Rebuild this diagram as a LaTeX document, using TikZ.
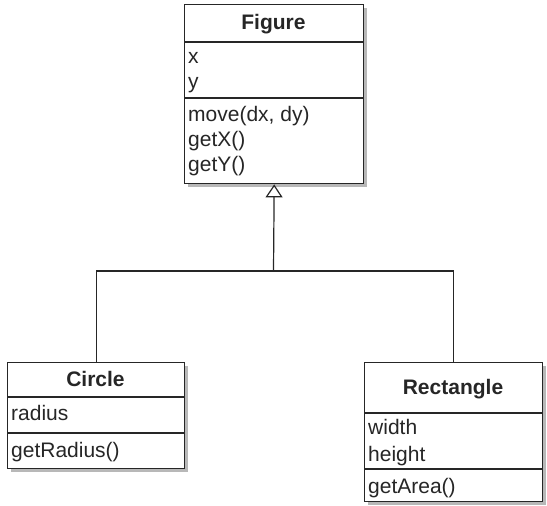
\documentclass[tikz,border=0pt]{standalone}
\usepackage{fontspec}
\setmainfont{Liberation Sans}
\usetikzlibrary{arrows.meta,shadows}
\begin{document}
\begin{tikzpicture}[x=1pt,y=-1pt,
  box/.style={draw=black!85,line width=1.4pt,fill=white,anchor=north west,inner sep=0pt,
    drop shadow={shadow xshift=3.5pt,shadow yshift=-3.5pt,fill=black!35,opacity=0.8}},
  sep/.style={draw=black!85,line width=1.2pt},
  conn/.style={draw=black!85,line width=1.2pt},
  txt/.style={anchor=mid west,inner sep=0pt,font=\fontsize{21}{24}\selectfont,text=black!85},
  hdr/.style={anchor=mid,inner sep=0pt,font=\fontsize{21}{24}\selectfont\bfseries,text=black!85}]
\useasboundingbox (0,0) rectangle (547,506);
% Figure
\node[box,minimum width=179pt,minimum height=179pt] (fig) at (184,4) {};
\draw[sep] (184,42) -- (363,42);
\draw[sep] (184,98) -- (363,98);
\node[hdr] (figt) at (273.5,27) {Figure};
\node[txt] (fx) at (188,61) {x};
\node[txt] (fy) at (188,86) {y};
\node[txt] (fm) at (188,119) {move(dx, dy)};
\node[txt] (fgx) at (188,144) {getX()};
\node[txt] (fgy) at (188,169) {getY()};
% Circle
\node[box,minimum width=177pt,minimum height=106pt] (cir) at (7,362) {};
\draw[sep] (7,397) -- (184,397);
\draw[sep] (7,433) -- (184,433);
\node[hdr] (cirt) at (95.5,384) {Circle};
\node[txt] (cr) at (11,418) {radius};
\node[txt] (cg) at (11,455) {getRadius()};
% Rectangle
\node[box,minimum width=178pt,minimum height=139pt] (rect) at (364,362) {};
\draw[sep] (364,413) -- (542,413);
\draw[sep] (364,469) -- (542,469);
\node[hdr] (rectt) at (453,392) {Rectangle};
\node[txt] (rw) at (368,432) {width};
\node[txt] (rh) at (368,459) {height};
\node[txt] (ra) at (368,491) {getArea()};
% connectors
\coordinate (j) at (273.5,271);
\draw[conn,-{Triangle[open,width=17pt,length=13pt,line width=1.2pt]}] (j) -- (fig.south);
\draw[conn] (cir.north) |- (j) -| (rect.north);
\end{tikzpicture}
\end{document}
